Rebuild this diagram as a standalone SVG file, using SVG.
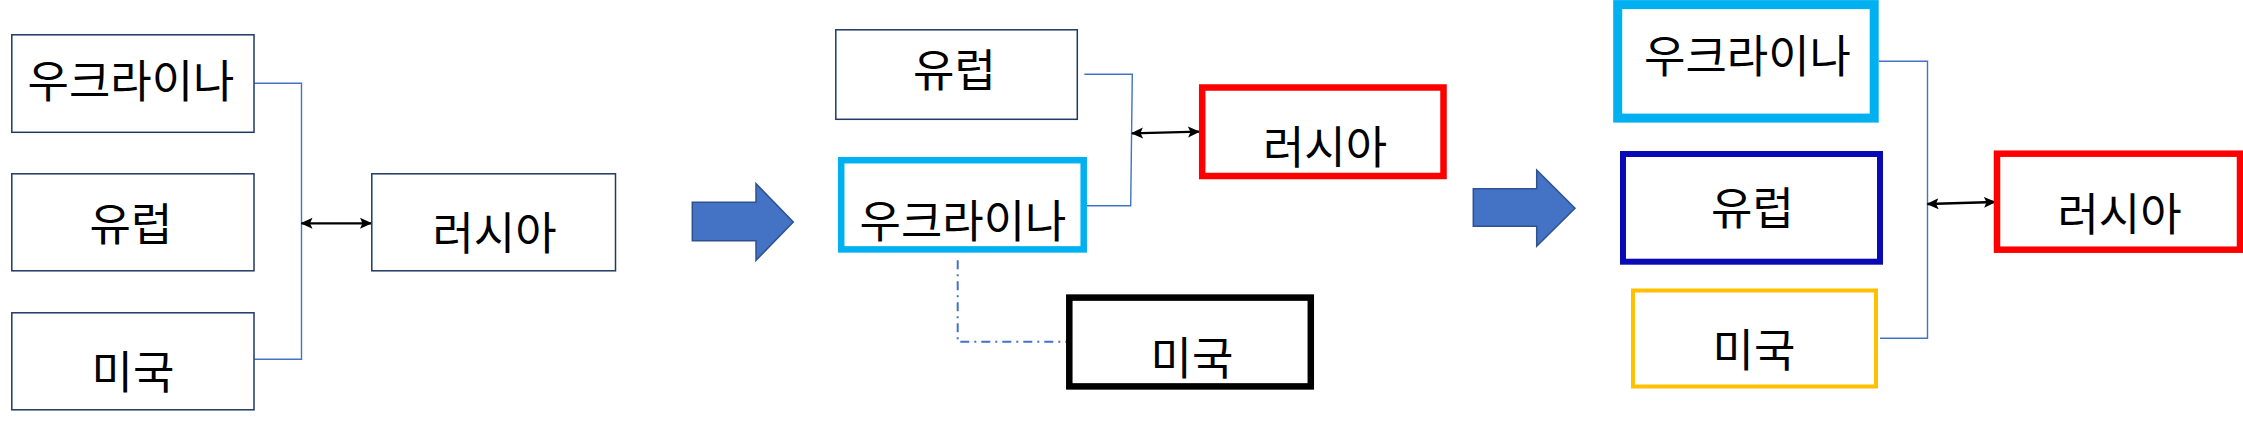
<svg xmlns="http://www.w3.org/2000/svg" width="2243" height="422" viewBox="0 0 2243 422">
<style>
  .t { font-family: "Noto Sans CJK KR", "Noto Sans", sans-serif; font-size: 45px; fill: #000; text-anchor: middle; }
  .plain { fill: #fff; stroke: #203864; stroke-width: 1.5; }
  .con { fill: none; stroke: #4472C4; stroke-width: 1.4; }
  .dd { fill: none; stroke: #4472C4; stroke-width: 2; stroke-dasharray: 9 5 2 5; }
  .dbl { fill: none; stroke: #000; stroke-width: 2.3; marker-start: url(#ah); marker-end: url(#ah); }
  .block { fill: #4472C4; stroke: #2F528F; stroke-width: 1.5; }
</style>
<defs>
  <marker id="ah" viewBox="0 0 12 12" refX="11" refY="6" markerWidth="12" markerHeight="12" markerUnits="userSpaceOnUse" orient="auto-start-reverse">
    <path d="M0,0.5 L12,6 L0,11.5 L2.5,6 z" fill="#000"/>
  </marker>
</defs>
<rect width="2243" height="422" fill="#fff"/>

<g id="connectors">
  <path class="con" d="M254.3,83.3 H301.5 V359.3 H254.3"/>
  <path class="dbl" d="M301.5,223.3 H371"/>
  <path class="con" d="M1084.3,74.3 H1132.3 L1130.7,205.7 H1086.7"/>
  <path class="dbl" d="M1132,133.3 L1199,131.7"/>
  <path class="dd" d="M957.7,260.3 V341.7 H1068"/>
  <path class="con" d="M1878.7,61.3 H1927.5 V338.3 H1880"/>
  <path class="dbl" d="M1927.5,204 L1995,202"/>
</g>

<g id="arrow-1">
  <polygon class="block" points="692.3,202.3 756,202.3 756,183.7 793.3,222 756,260.3 756,240.7 692.3,240.7"/>
</g>
<g id="arrow-2">
  <polygon class="block" points="1473.3,188.7 1536.7,188.7 1536.7,170 1575,208.2 1536.7,246.3 1536.7,226.3 1473.3,226.3"/>
</g>

<!-- Panel 1 -->
<g id="p1-ukraine">
  <rect class="plain" x="11.8" y="34.8" width="242.2" height="97.5"/>
  <text class="t" x="131" y="97.5">우크라이나</text>
</g>
<g id="p1-europe">
  <rect class="plain" x="11.8" y="173.8" width="242.2" height="97"/>
  <text class="t" x="131" y="240.5">유럽</text>
</g>
<g id="p1-usa">
  <rect class="plain" x="11.8" y="312.8" width="242.2" height="97"/>
  <text class="t" x="133" y="388.5">미국</text>
</g>
<g id="p1-russia">
  <rect class="plain" x="371.8" y="173.8" width="243.7" height="97"/>
  <text class="t" x="494.5" y="249.5">러시아</text>
</g>

<!-- Panel 2 -->
<g id="p2-europe">
  <rect class="plain" x="835.8" y="29.8" width="241.5" height="89.5"/>
  <text class="t" x="954.5" y="86.5">유럽</text>
</g>
<g id="p2-ukraine">
  <rect x="841.2" y="160.2" width="242.5" height="89.2" fill="#fff" stroke="#00B0F0" stroke-width="6.5"/>
  <text class="t" x="963" y="238">우크라이나</text>
</g>
<g id="p2-russia">
  <rect x="1202.2" y="87.5" width="241.3" height="88.5" fill="#fff" stroke="#FF0000" stroke-width="6.5"/>
  <text class="t" x="1325" y="163.8">러시아</text>
</g>
<g id="p2-usa">
  <rect x="1069.3" y="297.6" width="241.5" height="88.8" fill="#fff" stroke="#000" stroke-width="6.5"/>
  <text class="t" x="1192" y="374.8">미국</text>
</g>

<!-- Panel 3 -->
<g id="p3-ukraine">
  <rect x="1617.7" y="4.6" width="256.5" height="113.5" fill="#fff" stroke="#00B0F0" stroke-width="9"/>
  <text class="t" x="1747.5" y="72.8">우크라이나</text>
</g>
<g id="p3-europe">
  <rect x="1623" y="154" width="257" height="107.7" fill="#fff" stroke="#0A0AB4" stroke-width="6"/>
  <text class="t" x="1752.5" y="224.8">유럽</text>
</g>
<g id="p3-usa">
  <rect x="1633" y="290.5" width="243" height="96" fill="#fff" stroke="#FFC000" stroke-width="4"/>
  <text class="t" x="1754" y="367">미국</text>
</g>
<g id="p3-russia">
  <rect x="1997" y="153.7" width="243" height="96" fill="#fff" stroke="#FF0000" stroke-width="6.5"/>
  <text class="t" x="2119.5" y="230.5">러시아</text>
</g>
</svg>
